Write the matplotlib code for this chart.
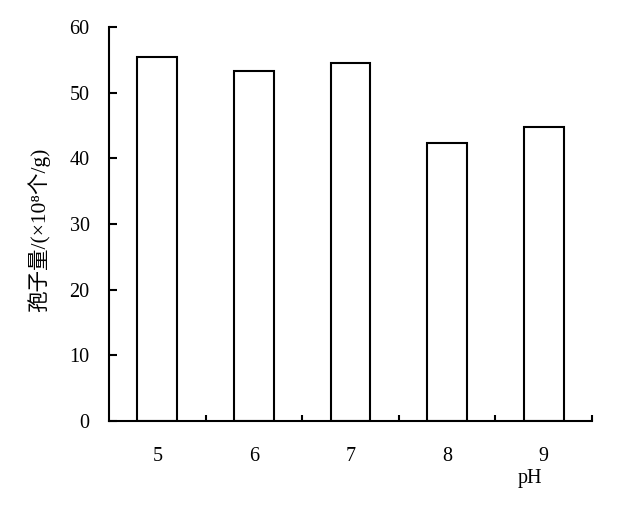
import matplotlib
matplotlib.use("Agg")
import matplotlib.pyplot as plt
from matplotlib.ticker import FixedLocator

categories = ["5", "6", "7", "8", "9"]
spore_counts = [55.4, 53.3, 54.5, 42.3, 44.8]
y_ticks = [0, 10, 20, 30, 40, 50, 60]

plt.rcParams["font.family"] = ["Liberation Serif", "Noto Sans CJK SC", "DejaVu Serif"]

W, H = 623, 508
fig = plt.figure(figsize=(W / 100, H / 100), dpi=100)
ax = fig.add_axes([109 / W, 1 - 421 / H, (592 - 109) / W, (421 - 27) / H])

x = list(range(len(categories)))
ax.bar(x, spore_counts, width=0.41, color="white", edgecolor="black", linewidth=1.5)

ax.set_xlim(-0.5, 4.5)
ax.set_ylim(0, 60)
ax.set_xticks(x)
ax.set_xticklabels(categories)
ax.xaxis.set_minor_locator(FixedLocator([0.5, 1.5, 2.5, 3.5, 4.5]))
ax.set_yticks(y_ticks)

ax.tick_params(axis="x", which="major", length=0, pad=19, labelsize=14.5)
ax.tick_params(axis="x", which="minor", direction="in", length=4, width=1.5)
ax.tick_params(axis="y", direction="in", length=6, width=1.5, pad=14, labelsize=14.5)

for side in ("top", "right"):
    ax.spines[side].set_visible(False)
for side in ("left", "bottom"):
    ax.spines[side].set_linewidth(1.5)

fig.text(530 / W, 1 - 478 / H, "pH", ha="center", va="center", fontsize=14.5)
fig.text(39 / W, 1 - 230 / H, "孢子量/(×10⁸个/g)", rotation=90,
         ha="center", va="center", fontsize=15.5)

fig.savefig("out.png", dpi=100)
